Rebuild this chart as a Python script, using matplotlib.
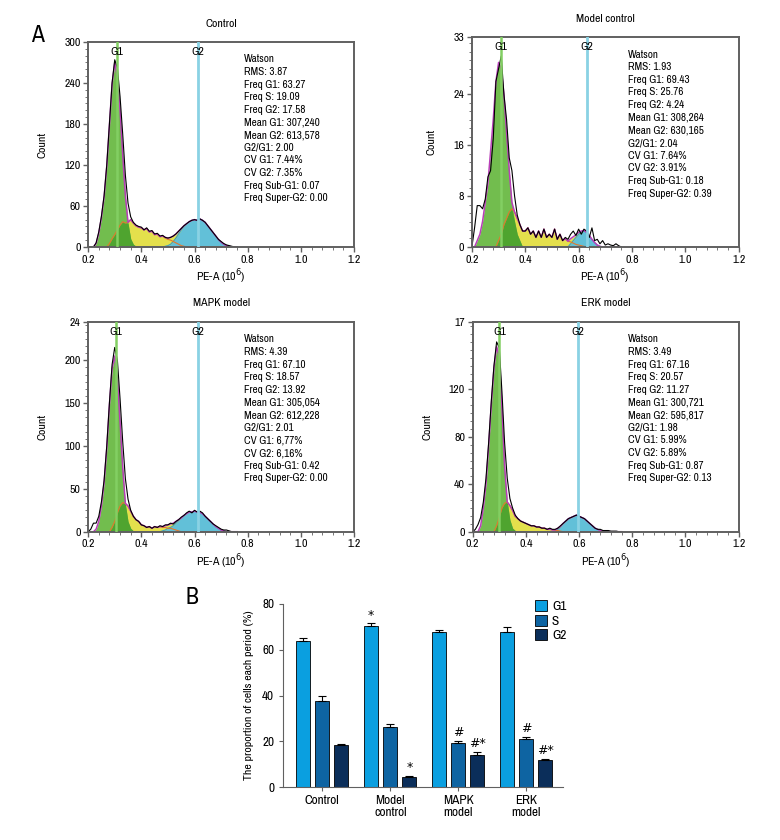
import numpy as np
import matplotlib
matplotlib.use("Agg")
import matplotlib.pyplot as plt
from matplotlib import font_manager
from matplotlib.ticker import AutoMinorLocator
from matplotlib.patches import Patch

# fuente estrecha si hay alguna instalada
narrow = [f.name for f in font_manager.fontManager.ttflist
          if "Narrow" in f.name or "Condensed" in f.name]
plt.rcParams['font.family'] = (narrow[:1] or ['Liberation Sans']) + ['DejaVu Sans']

# ── Datos: histogramas de ciclo celular (PE-A, x10^6) ─────────────────────────
# rejilla comun 0.20 .. 0.76 cada 0.01
X = np.round(np.arange(0.20, 0.765, 0.01), 2)

# Control
ctrl_counts = [0, 0, 0, 6, 22, 45, 75, 120, 180, 240,
               274, 262, 220, 165, 105, 64, 44, 36, 32, 30,
               29, 25, 28, 23, 24, 19, 20, 16, 17, 14,
               13, 14, 16, 19, 23, 27, 31, 34, 37, 39,
               40, 39, 41, 39, 36, 31, 26, 21, 16, 11,
               8, 5, 3, 2, 1, 0, 0]
ctrl_g1 = [0, 0, 0, 5, 20, 43, 73, 118, 178, 238,
           270, 250, 200, 135, 75, 35, 12, 4, 1, 0] + [0] * 37
ctrl_s = [0, 0, 0, 0, 0, 0, 0, 0, 5, 12,
          18, 25, 32, 37, 35, 36, 40, 35, 31, 29,
          28, 25, 27, 22, 23, 18, 19, 15, 16, 13,
          11, 10, 8, 6, 4, 2, 1, 0, 0, 0] + [0] * 17
ctrl_g2 = [0] * 29 + [1,
           2, 4, 8, 13, 19, 25, 30, 34, 37, 39,
           40, 39, 41, 39, 36, 31, 26, 21, 16, 11,
           7, 4, 2, 1, 0, 0, 0]

# Model control
mc_counts = [0, 3, 6.5, 6.5, 6, 7.5, 11, 12, 17, 26,
             28, 30, 24, 20, 14, 12, 8, 5, 3.5, 2.5,
             2.5, 3, 2, 2.5, 1.5, 2.5, 1.5, 2.8, 1.5, 2,
             1.5, 2.8, 1.2, 2, 1, 1.5, 1.2, 2, 2.5, 1.8,
             2.8, 2, 2.8, 2.5, 1.5, 3, 1, 1.2, 0.5, 1,
             0.3, 0.5, 0.3, 0.2, 0.5, 0.2, 0]
mc_g1 = [0, 0, 1, 2, 4, 7, 10, 15, 20, 26,
         29, 28, 24, 18, 12, 7, 4, 2, 1, 0] + [0] * 37
mc_s = [0] * 10 + [1, 2, 3.5, 4.5, 5.5, 6, 5.5, 4.5, 3.5, 2.5,
                   2.5, 3, 2, 2.5, 1.5, 2.5, 1.5, 2.8, 1.5, 2,
                   1.5, 2.8, 1.2, 2, 1, 1.3, 0.9, 0.8, 0.6, 0.4,
                   0.3, 0.2, 0.1] + [0] * 14
mc_g2 = [0] * 37 + [0.5, 1, 1.5,
                    2, 2.3, 2.5, 2.3, 1.8, 1.2, 0.7, 0.3, 0.1, 0] + [0] * 7

# MAPK model
mapk_counts = [0, 3, 10, 10, 18, 35, 60, 100, 150, 195,
               215, 200, 155, 105, 62, 38, 25, 18, 14, 12,
               8, 7, 5, 6, 4, 6, 5, 7, 6, 8,
               8, 10, 9, 12, 14, 17, 19, 22, 24, 22,
               25, 23, 24, 22, 18, 15, 12, 9, 7, 5,
               3, 2, 2, 1, 0, 0, 0]
mapk_g1 = [0, 0, 0, 3, 12, 30, 57, 97, 148, 190,
           205, 180, 128, 75, 32, 12, 4, 1, 0, 0] + [0] * 37
mapk_s = [0] * 9 + [5,
                    12, 22, 30, 34, 33, 30, 24, 18, 14, 12,
                    8, 7, 5, 6, 4, 6, 5, 6, 5, 5,
                    4, 4, 3, 2, 1, 0, 0, 0, 0, 0] + [0] * 17
mapk_g2 = [0] * 28 + [1, 2,
                      4, 5, 7, 10, 13, 16, 19, 21, 23, 23,
                      24, 23, 23, 21, 18, 15, 12, 9, 6, 4,
                      2, 1, 0, 0, 0, 0, 0]

# ERK model
erk_counts = [0, 2, 6, 12, 25, 45, 75, 110, 140, 160,
              155, 118, 75, 45, 28, 20, 14, 11, 9, 8,
              7, 6, 5, 5, 4, 4, 3, 3, 2, 3,
              2, 2, 3, 5, 7, 9, 11, 12, 13, 14,
              13, 12, 11, 9, 7, 5, 3, 2, 2, 1,
              1, 1, 0.5, 0.5, 0.5, 0, 0]
erk_g1 = [0, 0, 0, 5, 20, 40, 72, 107, 138, 156,
          148, 105, 55, 25, 10, 3, 1, 0, 0, 0] + [0] * 37
erk_s = [0] * 9 + [5,
                   12, 20, 24, 25, 22, 18, 13, 11, 9, 8,
                   7, 6, 5, 5, 4, 4, 3, 3, 2, 2,
                   1.5, 1, 1, 0.5, 0, 0, 0, 0, 0, 0] + [0] * 17
erk_g2 = [0] * 31 + [0.5, 2, 4, 7, 9, 11, 12, 13, 14,
                     13, 12, 11, 9, 7, 5, 3, 2, 1, 0.5,
                     0, 0, 0, 0, 0, 0, 0]

panel_titles = ["Control", "Model control", "MAPK model", "ERK model"]
panel_counts = [ctrl_counts, mc_counts, mapk_counts, erk_counts]
panel_g1 = [ctrl_g1, mc_g1, mapk_g1, erk_g1]
panel_s = [ctrl_s, mc_s, mapk_s, erk_s]
panel_g2 = [ctrl_g2, mc_g2, mapk_g2, erk_g2]
panel_ymax = [300, 33, 245, 177]
panel_yticks = [[0, 60, 120, 180, 240, 300], [0, 8, 16, 24, 33],
                [0, 50, 100, 150, 200, 245], [0, 40, 80, 120, 177]]
panel_yticklabels = [["0", "60", "120", "180", "240", "300"], ["0", "8", "16", "24", "33"],
                     ["0", "50", "100", "150", "200", "24"], ["0", "40", "80", "120", "17"]]
mean_g1 = [307240, 308264, 305054, 300721]
mean_g2 = [613578, 630165, 612228, 595817]
stats = [
    ["RMS: 3.87", "Freq G1: 63.27", "Freq S: 19.09", "Freq G2: 17.58", "Mean G1: 307,240",
     "Mean G2: 613,578", "G2/G1: 2.00", "CV G1: 7.44%", "CV G2: 7.35%",
     "Freq Sub-G1: 0.07", "Freq Super-G2: 0.00"],
    ["RMS: 1.93", "Freq G1: 69.43", "Freq S: 25.76", "Freq G2: 4.24", "Mean G1: 308,264",
     "Mean G2: 630,165", "G2/G1: 2.04", "CV G1: 7.64%", "CV G2: 3.91%",
     "Freq Sub-G1: 0.18", "Freq Super-G2: 0.39"],
    ["RMS: 4.39", "Freq G1: 67.10", "Freq S: 18.57", "Freq G2: 13.92", "Mean G1: 305,054",
     "Mean G2: 612,228", "G2/G1: 2.01", "CV G1: 6,77%", "CV G2: 6,16%",
     "Freq Sub-G1: 0.42", "Freq Super-G2: 0.00"],
    ["RMS: 3.49", "Freq G1: 67.16", "Freq S: 20.57", "Freq G2: 11.27", "Mean G1: 300,721",
     "Mean G2: 595,817", "G2/G1: 1.98", "CV G1: 5.99%", "CV G2: 5.89%",
     "Freq Sub-G1: 0.87", "Freq Super-G2: 0.13"],
]

# ── Datos: barras (proporcion de celulas por fase, %) ─────────────────────────
groups = ["Control", "Model\ncontrol", "MAPK\nmodel", "ERK\nmodel"]
g1_mean = [63.9, 70.2, 67.7, 67.7]
g1_err = [1.2, 1.3, 0.9, 2.2]
s_mean = [37.6, 26.2, 19.3, 21.1]
s_err = [2.2, 1.3, 0.9, 0.8]
g2_mean = [18.3, 4.4, 14.2, 11.8]
g2_err = [0.7, 0.6, 1.3, 0.6]
g1_marks = ["", "*", "", ""]
s_marks = ["", "", "#", "#"]
g2_marks = ["", "*", "#*", "#*"]

# ── Estilo ────────────────────────────────────────────────────────────────────
GREEN = "#72bd4e"
DKGREEN = "#4fa42f"
YELLOW = "#e4e04c"
CYAN = "#62c0d8"
MAGENTA = "#b83fb8"
ORANGE = "#e0782c"
G1LINE = "#82cf62"
G2LINE = "#8ad2e4"
SPINE = "#606060"

BAR_COLORS = ["#0a9fe0", "#0e64a2", "#0b2e5a"]

fig = plt.figure(figsize=(7.8, 8.4), dpi=100)

# posiciones [left, bottom, width, height] en fraccion de figura
hist_rects = [[0.113, 0.706, 0.341, 0.244],
              [0.605, 0.706, 0.342, 0.250],
              [0.113, 0.367, 0.341, 0.250],
              [0.606, 0.367, 0.341, 0.250]]

for i in range(4):
    ax = fig.add_axes(hist_rects[i])
    counts = np.array(panel_counts[i], dtype=float)
    g1 = np.array(panel_g1[i], dtype=float)
    s = np.array(panel_s[i], dtype=float)
    g2 = np.array(panel_g2[i], dtype=float)
    fit = np.maximum(g1, s + g2)

    ax.fill_between(X, 0, s + g2, color=YELLOW, lw=0)
    ax.fill_between(X, 0, g2, color=CYAN, lw=0)
    ax.fill_between(X, 0, g1, color=GREEN, lw=0)
    ax.fill_between(X, 0, np.minimum(g1, s), color=DKGREEN, lw=0)
    ax.plot(X, g2, color="#3a9ec4", lw=0.8)
    ax.plot(X, s, color=ORANGE, lw=0.8)
    ax.plot(X, fit, color=MAGENTA, lw=1.1)
    ax.plot(X, counts, color="black", lw=0.8)

    m1 = mean_g1[i] / 1e6
    m2 = mean_g2[i] / 1e6
    ax.axvline(m1, color=G1LINE, lw=1.8, zorder=5)
    ax.axvline(m2, color=G2LINE, lw=2.0, zorder=5)
    ymax = panel_ymax[i]
    ax.text(m1, ymax * 0.975, "G1", ha="center", va="top", fontsize=8.5, zorder=6)
    ax.text(m2, ymax * 0.975, "G2", ha="center", va="top", fontsize=8.5, zorder=6)

    ax.text(0.585, 0.94, "Watson\n" + "\n".join(stats[i]), transform=ax.transAxes,
            ha="left", va="top", fontsize=8, linespacing=1.33)

    ax.set_xlim(0.2, 1.2)
    ax.set_ylim(0, ymax)
    ax.set_xticks([0.2, 0.4, 0.6, 0.8, 1.0, 1.2])
    ax.set_xticklabels(["0.2", "0.4", "0.6", "0.8", "1.0", "1.2"])
    ax.set_yticks(panel_yticks[i])
    ax.set_yticklabels(panel_yticklabels[i])
    ax.xaxis.set_minor_locator(AutoMinorLocator(5))
    ax.yaxis.set_minor_locator(AutoMinorLocator(6))
    ax.tick_params(which="major", direction="out", length=3.5, width=1, labelsize=8.5,
                   color=SPINE, pad=2)
    ax.tick_params(which="minor", direction="out", length=2, width=0.6, color=SPINE)
    for sp in ax.spines.values():
        sp.set_color(SPINE)
        sp.set_linewidth(1.4)
    ax.set_title(panel_titles[i], fontsize=8.5, pad=11)
    ax.set_ylabel("Count", fontsize=8.5, labelpad=12)
    ax.set_xlabel("PE-A (10$^6$)", fontsize=8.5, labelpad=2)

fig.text(0.040, 0.958, "A", fontsize=17, ha="left", va="center")
fig.text(0.238, 0.289, "B", fontsize=17, ha="left", va="center")

# ── Panel B: barras ──────────────────────────────────────────────────────────
axb = fig.add_axes([0.363, 0.063, 0.359, 0.218])
xg = np.arange(len(groups))
width = 0.206
step = 0.28
series = [(g1_mean, g1_err, g1_marks, "G1"), (s_mean, s_err, s_marks, "S"),
          (g2_mean, g2_err, g2_marks, "G2")]
for k, (vals, errs, marks, lab) in enumerate(series):
    xs = xg + (k - 1) * step
    axb.bar(xs, vals, width=width, color=BAR_COLORS[k], edgecolor="black", lw=0.6, zorder=2)
    axb.errorbar(xs, vals, yerr=[np.zeros(len(vals)), errs], fmt="none", ecolor="black",
                 elinewidth=0.8, capsize=3, capthick=0.8, zorder=3)
    for xi, v, e, m in zip(xs, vals, errs, marks):
        if m:
            axb.text(xi, v + e + 0.8, m, ha="center", va="bottom", fontsize=9,
                     family="DejaVu Sans")

axb.set_xlim(-0.574, 3.54)
axb.set_ylim(0, 80)
axb.set_yticks([0, 20, 40, 60, 80])
axb.set_xticks(xg)
axb.set_xticklabels(groups, fontsize=9.5, linespacing=1.1)
axb.tick_params(axis="y", labelsize=9.5, direction="out", length=3, width=0.8, color=SPINE)
axb.tick_params(axis="x", direction="out", length=3, width=0.8, color=SPINE, pad=3)
axb.spines["top"].set_visible(False)
axb.spines["right"].set_visible(False)
axb.spines["left"].set_color(SPINE)
axb.spines["bottom"].set_color(SPINE)
axb.set_ylabel("The proportion of cells each period (%)", fontsize=8.5, labelpad=6)

handles = [Patch(facecolor=c, edgecolor="black", lw=0.6) for c in BAR_COLORS]
axb.legend(handles, ["G1", "S", "G2"], loc="upper left", bbox_to_anchor=(0.88, 1.05),
           frameon=False, fontsize=9.5, handlelength=0.9, handleheight=0.9,
           handletextpad=0.4, labelspacing=0.2, borderaxespad=0)

fig.savefig("out.png", dpi=100)
